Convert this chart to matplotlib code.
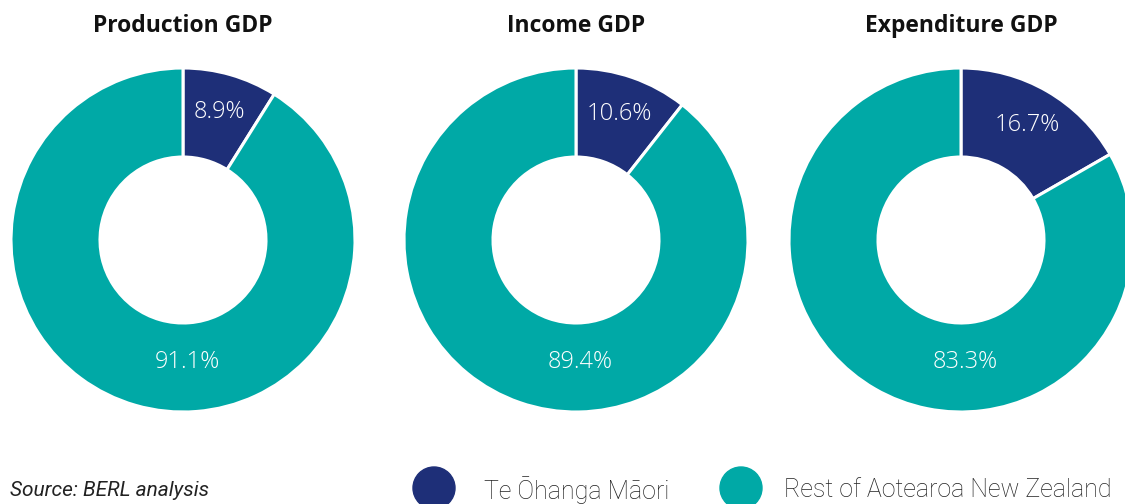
import matplotlib
matplotlib.use("Agg")
import matplotlib.pyplot as plt
from matplotlib.patches import Circle
import numpy as np

titles = ["Production GDP", "Income GDP", "Expenditure GDP"]
maori_share = [8.9, 10.6, 16.7]
rest_share = [91.1, 89.4, 83.3]
legend_labels = ["Te Ōhanga Māori", "Rest of Aotearoa New Zealand"]
source_text = "Source: BERL analysis"

NAVY = "#1E2F78"
TEAL = "#00A9A6"

W, H = 1125, 504
fig = plt.figure(figsize=(W / 100, H / 100), dpi=100)
ax = fig.add_axes([0, 0, 1, 1])

centers_x = [183, 576, 961]
cy = H - 240
R = 172
ring_w = 89

for title, m, r, cx in zip(titles, maori_share, rest_share, centers_x):
    ax.pie([m, r], colors=[NAVY, TEAL], startangle=90, counterclock=False,
           center=(cx, cy), radius=R,
           wedgeprops=dict(width=ring_w, edgecolor="white", linewidth=2.2))
    mid = np.deg2rad(90 - m / 100 * 360 / 2)
    rl = 133
    ax.text(cx + rl * np.cos(mid), cy + rl * np.sin(mid), f"{m}%",
            ha="center", va="center", color="white", fontsize=17,
            family="Open Sans", fontweight="light")
    ax.text(cx + 4, cy - 122, f"{r}%", ha="center", va="center",
            color="white", fontsize=17, family="Open Sans", fontweight="light")
    ax.text(cx, H - 26, title, ha="center", va="center", fontsize=16.5,
            family="Open Sans", fontweight="bold", color="#111111")

ax.set_xlim(0, W)
ax.set_ylim(0, H)
ax.set_aspect("equal")
ax.axis("off")

for lx, col, lab, tx in zip([434, 741], [NAVY, TEAL], legend_labels, [484, 784]):
    ax.add_patch(Circle((lx, H - 488), 21, color=col, clip_on=False))
    ax.text(tx, H - 490, lab, ha="left", va="center", fontsize=18,
            family="Roboto", fontweight="light", color="#222222")

ax.text(10, H - 490, source_text, ha="left", va="center", fontsize=15,
        family="Roboto", style="italic", color="#222222")

fig.savefig("out.png", dpi=100)
